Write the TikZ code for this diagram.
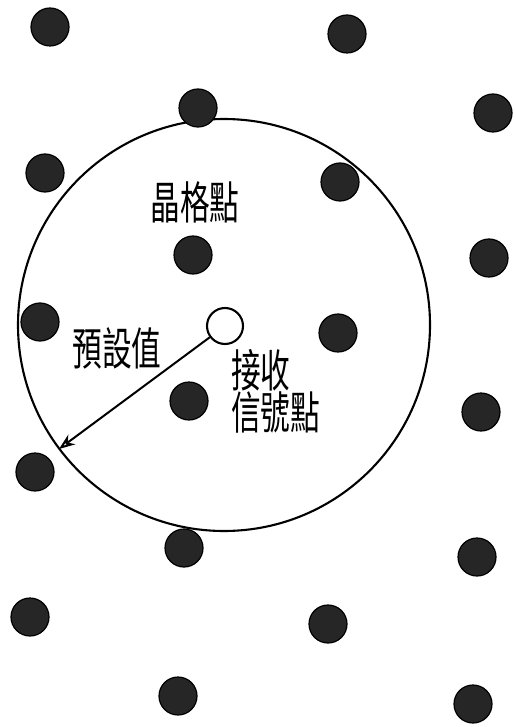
\documentclass[tikz,border=0pt]{standalone}
\usepackage{fontspec}
\newfontfamily\cjk{Noto Sans CJK TC}
\usetikzlibrary{arrows.meta}
\begin{document}
\begin{tikzpicture}[x=1pt,y=-1pt,
  lattice/.style={circle,fill=black!85,draw=black,line width=1.2pt,minimum size=38pt,inner sep=0pt},
  recv/.style={circle,draw=black,line width=2.1pt,fill=white,minimum size=36pt,inner sep=0pt},
  lbl/.style={font=\cjk\fontsize{45}{45}\selectfont,xscale=0.66,inner sep=0pt}]
\useasboundingbox (0,0) rectangle (515,727);
% boundary circle
\node[circle,draw=black,line width=2.1pt,minimum size=412pt,inner sep=0pt] (big) at (224,325) {};
% lattice points
\node[lattice] (p1) at (50,27) {};
\node[lattice] (p2) at (347,34) {};
\node[lattice] (p3) at (198,108) {};
\node[lattice] (p4) at (493,113) {};
\node[lattice] (p5) at (45,173) {};
\node[lattice] (p6) at (340,182) {};
\node[lattice] (p7) at (193,255) {};
\node[lattice] (p8) at (489,258) {};
\node[lattice] (p9) at (40,322) {};
\node[lattice] (p10) at (338,333) {};
\node[lattice] (p11) at (189,401) {};
\node[lattice] (p12) at (481,412) {};
\node[lattice] (p13) at (35,472) {};
\node[lattice] (p14) at (184,548) {};
\node[lattice] (p15) at (477,557) {};
\node[lattice] (p16) at (30,617) {};
\node[lattice] (p17) at (328,624) {};
\node[lattice] (p18) at (178,696) {};
\node[lattice] (p19) at (473,704) {};
% received signal point
\node[recv] (r) at (225,326) {};
\coordinate (tip) at (59,449);
\draw[line width=2pt,-{Stealth[open,length=16pt,width=12pt,line width=2pt]}] (r) -- (tip);
% labels
\node[lbl] (t1) at (195,202) {晶格點};
\node[lbl] (t2) at (117,348) {預設值};
\node[lbl,anchor=west] (t3) at (231,370) {接收};
\node[lbl,anchor=west] (t4) at (231,412) {信號點};
\end{tikzpicture}
\end{document}
